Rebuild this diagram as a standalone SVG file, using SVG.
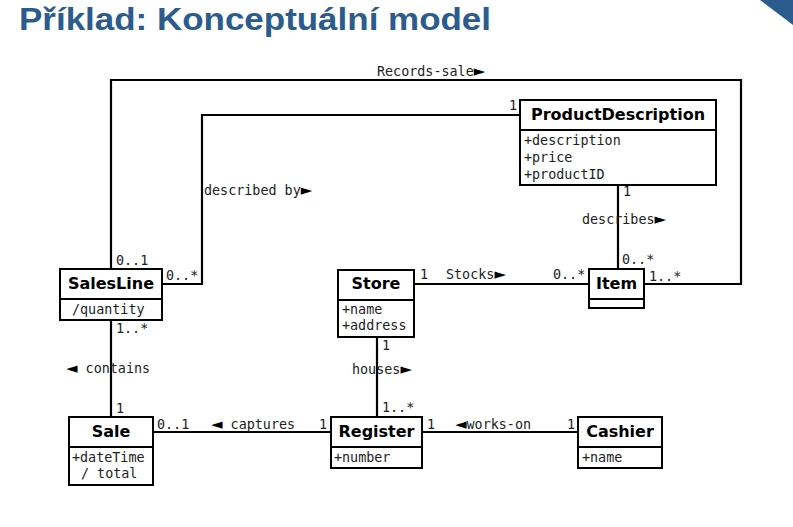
<svg xmlns="http://www.w3.org/2000/svg" width="793" height="527" viewBox="0 0 793 527">
<style>
.box{fill:#fff;stroke:#000;stroke-width:2}
.div{stroke:#000;stroke-width:2}
.cn{font-family:"DejaVu Sans",sans-serif;font-weight:bold;font-size:16px;text-anchor:middle;fill:#000}
.at{font-family:"DejaVu Sans Mono",monospace;font-size:13.4px;fill:#222}
.lb{font-family:"DejaVu Sans Mono",monospace;font-size:13.4px;fill:#222}
.ar{font-family:"DejaVu Sans",sans-serif;font-size:15px;fill:#000}
.ln{fill:none;stroke:#000;stroke-width:2.2}
</style>
<rect width="793" height="527" fill="#fff"/>
<text x="19" y="30" font-family="Liberation Sans, sans-serif" font-weight="bold" font-size="31" fill="#2c5b8e" textLength="472" lengthAdjust="spacingAndGlyphs">Příklad: Konceptuální model</text>
<polygon points="760,0 793,0 793,25" fill="#2c5b8e"/>

<g id="connectors">
<polyline class="ln" points="111,269 111,80 741,80 741,284 644,284"/>
<polyline class="ln" points="162,284 202,284 202,115 520,115"/>
<line class="ln" x1="618" y1="185" x2="618" y2="269"/>
<line class="ln" x1="414" y1="284" x2="589" y2="284"/>
<line class="ln" x1="111" y1="320" x2="111" y2="417"/>
<line class="ln" x1="377" y1="337" x2="377" y2="417"/>
<line class="ln" x1="153" y1="432" x2="331" y2="432"/>
<line class="ln" x1="422" y1="432" x2="578" y2="432"/>
<text class="lb" x="377" y="76">Records-sale<tspan class="ar">►</tspan></text>
<text class="lb" x="204" y="195">described by<tspan class="ar">►</tspan></text>
<text class="lb" x="116" y="265">0..1</text>
<text class="lb" x="166" y="280">0..*</text>
<text class="lb" x="509" y="110">1</text>
<text class="lb" x="623" y="196">1</text>
<text class="lb" x="582" y="224">describes<tspan class="ar">►</tspan></text>
<text class="lb" x="622" y="264">0..*</text>
<text class="lb" x="649" y="281">1..*</text>
<text class="lb" x="420" y="279">1</text>
<text class="lb" x="446" y="279">Stocks<tspan class="ar">►</tspan></text>
<text class="lb" x="553" y="279">0..*</text>
<text class="lb" x="116" y="333">1..*</text>
<text class="lb" x="66" y="373"><tspan class="ar">◄</tspan> contains</text>
<text class="lb" x="116" y="413">1</text>
<text class="lb" x="382" y="350">1</text>
<text class="lb" x="352" y="374">houses<tspan class="ar">►</tspan></text>
<text class="lb" x="382" y="412">1..*</text>
<text class="lb" x="157" y="429">0..1</text>
<text class="lb" x="211" y="429"><tspan class="ar">◄</tspan> captures</text>
<text class="lb" x="319" y="429">1</text>
<text class="lb" x="427" y="429">1</text>
<text class="lb" x="455" y="429"><tspan class="ar">◄</tspan>works-on</text>
<text class="lb" x="567" y="429">1</text>
</g>

<g id="ProductDescription">
<rect class="box" x="520" y="100" width="196" height="85"/>
<line class="div" x1="520" y1="130" x2="716" y2="130"/>
<text class="cn" x="618" y="120">ProductDescription</text>
<text class="at" x="524" y="145">+description</text>
<text class="at" x="524" y="162">+price</text>
<text class="at" x="524" y="179">+productID</text>
</g>

<g id="SalesLine">
<rect class="box" x="60" y="269" width="102" height="51"/>
<line class="div" x1="60" y1="299" x2="162" y2="299"/>
<text class="cn" x="111" y="289">SalesLine</text>
<text class="at" x="72" y="314">/quantity</text>
</g>

<g id="Store">
<rect class="box" x="338" y="270" width="76" height="67"/>
<line class="div" x1="338" y1="300" x2="414" y2="300"/>
<text class="cn" x="376" y="289">Store</text>
<text class="at" x="342" y="314">+name</text>
<text class="at" x="342" y="330">+address</text>
</g>

<g id="Item">
<rect class="box" x="589" y="269" width="55" height="39"/>
<line class="div" x1="589" y1="299" x2="644" y2="299"/>
<text class="cn" x="616.5" y="289">Item</text>
</g>

<g id="Sale">
<rect class="box" x="69" y="417" width="84" height="68"/>
<line class="div" x1="69" y1="447" x2="153" y2="447"/>
<text class="cn" x="111" y="437">Sale</text>
<text class="at" x="72" y="462">+dateTime</text>
<text class="at" x="81" y="478">/ total</text>
</g>

<g id="Register">
<rect class="box" x="331" y="417" width="91" height="51"/>
<line class="div" x1="331" y1="447" x2="422" y2="447"/>
<text class="cn" x="376.5" y="437">Register</text>
<text class="at" x="334" y="462">+number</text>
</g>

<g id="Cashier">
<rect class="box" x="578" y="417" width="84" height="51"/>
<line class="div" x1="578" y1="447" x2="662" y2="447"/>
<text class="cn" x="620" y="437">Cashier</text>
<text class="at" x="582" y="462">+name</text>
</g>
</svg>
